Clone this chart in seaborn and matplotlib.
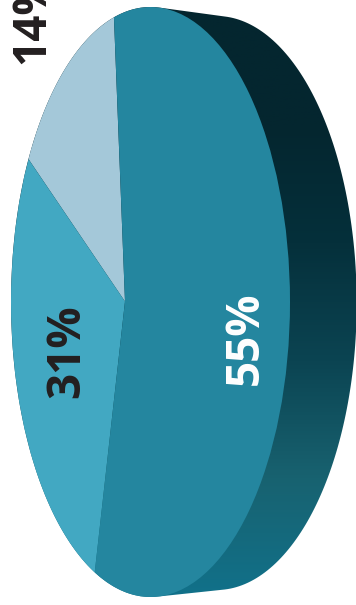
import numpy as np
import matplotlib
matplotlib.use("Agg")
import matplotlib.pyplot as plt
from matplotlib.patches import Circle, Polygon
import seaborn as sns

shares = [14, 31, 55]
share_labels = ["14%", "31%", "55%"]
slice_colors = ["#a4c8d9", "#42a8c2", "#24869f"]
label_colors = ["#231f20", "#231f20", "#ffffff"]
side_colors = ["#04262f", "#04262f", "#05303b", "#0b4452", "#186270", "#11718a"]

W, H = 356, 605


def hull(pts):
    # monotone chain, goes round the front and back rims
    pts = sorted(map(tuple, pts))
    def half(seq):
        out = []
        for p in seq:
            while len(out) > 1:
                a, b = np.subtract(out[-1], out[-2]), np.subtract(p, out[-2])
                if a[0] * b[1] - a[1] * b[0] > 0:
                    break
                out.pop()
            out.append(p)
        return out[:-1]
    return half(pts) + half(pts[::-1])


sns.set_theme(style="white")
plt.rcParams["font.family"] = ["Open Sans", "DejaVu Sans"]

fig = plt.figure(figsize=(W / 100, H / 100), dpi=100)
ax = fig.add_axes([0, 0, 1, 1])

# front rim is the unit circle, stretched by the axis limits
cx, cy, rx, ry = 150.5, 302, 139.5, 295
apex = ((125 - cx) / rx, (cy - 301.5) / ry)

wedges, _ = ax.pie(shares, colors=slice_colors, startangle=94.7, center=apex, radius=3,
                   wedgeprops={"linewidth": 0})

rim = Circle((0, 0), 1, transform=ax.transData, fc="none", ec="none")
ax.add_patch(rim)
for w in wedges:
    w.set_clip_on(True)  # pie turns clipping off
    w.set_clip_path(rim)
    w.set_zorder(3)

# extruded side, vertical gradient clipped to hull of both rims
t = np.linspace(0, 2 * np.pi, 300)
front = np.c_[np.cos(t), np.sin(t)]
back = np.c_[66 / rx + 1.005 * np.cos(t), (-1 / ry) + (287 / ry) * np.sin(t)]
side = Polygon(hull(np.r_[front, back]), transform=ax.transData, fc="none", ec="none")
ax.add_patch(side)
cmap = sns.blend_palette(side_colors, as_cmap=True)
grad = np.linspace(0, 1, 256).reshape(-1, 1)
im = ax.imshow(grad, cmap=cmap, aspect="auto", origin="upper",
               extent=[-1.1, 1.6, -1, 1], zorder=1)
im.set_clip_path(side)
ax.set_aspect("auto")
ax.set_xlim(-cx / rx, (W - cx) / rx)
ax.set_ylim((cy - H) / ry, cy / ry)

label_pos = [(32, 64), (67, 398), (245, 385)]
for s, c, (x, y) in zip(share_labels, label_colors, label_pos):
    ax.text(x / W, 1 - y / H, s, transform=ax.transAxes, rotation=90, color=c, fontsize=33,
            fontweight="bold", ha="center", va="bottom", zorder=5)

ax.text(82 / W, 1 - 602 / H, "1", transform=ax.transAxes, color="#231f20", fontsize=33,
        fontweight="bold", ha="center", va="top", zorder=5)

fig.savefig("out.png", dpi=100)
